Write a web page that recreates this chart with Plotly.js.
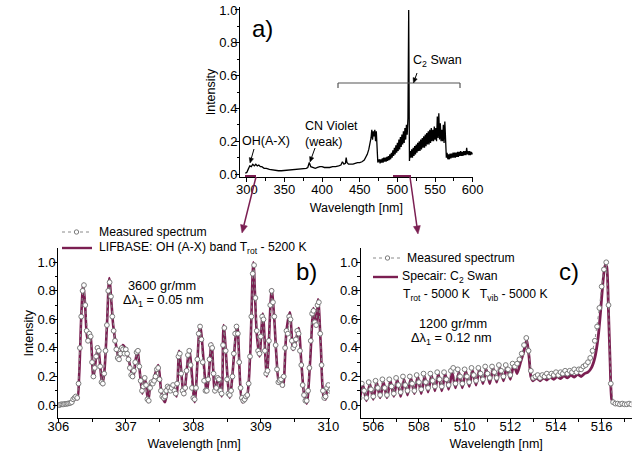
<!DOCTYPE html>
<html>
<head>
<meta charset="utf-8">
<script src="https://cdn.plot.ly/plotly-3.0.1.min.js"></script>
<style>html,body{margin:0;padding:0;background:#fff;}#chart{width:636px;height:461px;}</style>
</head>
<body>
<div id="chart"></div>
<script>
// ---------- Panel a: survey spectrum ----------
const aWl = [298,300,302,304,306,308,310,312,314,316,318,320,323,326,330,334,338,342,346,350,355,360,365,370,375,379,381,383,385,388,391,394,397,400,403,406,410,414,418,422,425,427,429,431,432,433,435,438,441,444,447,450,453,456,458,460,462,464,465,466,467,468,469,470,471,472,473,474,475,
476,477,478,479,480,481,482,483,484,485,486,487,488,489,490,491,492,493,494,495,496,497,498,499,500,501,502,503,504,505,506,507,508,509,510,511,512,513,514,515,516,517,518,519,520,521,522,523,524,525,526,527,528,529,530,531,532,533,534,535,536,537,538,539,540,541,542,543,544,545,546,547,548,549,550,551,552,553,554,555,556,557,558,559,560,561,562,563,564,565,566,567,568,569,570,571,572,573,574,575,576,577,578,579,580,581,582,583,584,585,586,587,588,589,590,591,592,593,594,595,596,597,598,599,600];
const aInt = [0.005,0.01,0.03,0.05,0.045,0.06,0.05,0.06,0.05,0.055,0.045,0.045,0.035,0.035,0.028,0.025,0.02,0.02,0.02,0.022,0.025,0.025,0.028,0.03,0.032,0.035,0.04,0.07,0.045,0.04,0.035,0.04,0.045,0.045,0.04,0.04,0.04,0.045,0.045,0.05,0.055,0.075,0.06,0.065,0.10,0.07,0.06,0.06,0.06,0.065,0.07,0.07,0.075,0.085,0.10,0.12,0.15,0.19,0.22,0.27,0.21,0.26,0.23,0.27,0.20,0.26,0.18,0.07,0.08,
0.09,0.065,0.09,0.07,0.095,0.07,0.10,0.075,0.10,0.075,
0.105,0.08,0.11,0.085,0.12,0.09,0.13,0.10,0.145,0.11,
0.16,0.12,0.175,0.13,0.19,0.14,0.21,0.15,0.225,0.165,
0.24,0.18,0.26,0.19,0.28,0.21,0.30,0.24,0.34,1.0,
0.08,0.14,0.10,0.15,0.10,0.16,0.11,0.17,0.12,0.18,
0.13,0.19,0.14,0.20,0.14,0.21,0.15,0.22,0.16,0.23,
0.16,0.24,0.17,0.25,0.18,0.26,0.18,0.27,0.19,0.28,
0.20,0.27,0.20,0.29,0.21,0.28,0.20,0.35,0.22,0.37,
0.21,0.31,0.20,0.27,0.20,0.30,0.19,0.32,0.15,0.10,
0.13,0.09,0.12,0.09,0.125,0.095,0.125,0.10,0.13,0.10,
0.13,0.10,0.13,0.105,0.135,0.105,0.135,0.11,0.14,0.11,
0.135,0.11,0.14,0.115,0.14,0.115,0.16,0.12,0.14,0.115,
0.14,0.115,0.135,0.12,0.13];

// ---------- Panel b: OH (A-X) ----------
const bModelWl = [306.00,306.10,306.18,306.22,306.25,306.28,306.31,306.34,306.37,306.40,306.43,306.47,306.49,306.52,306.56,306.59,306.62,306.65,306.68,306.72,306.755,306.79,306.815,306.865,306.90,306.955,307.00,307.05,307.11,307.14,307.175,307.21,307.245,307.28,307.30,307.33,307.37,307.41,307.48,307.53,307.58,307.63,307.67,307.70,307.75,307.79,307.86,307.94,308.02,308.10,308.20,308.27,308.32,308.37,308.42,308.45,308.54,308.65,308.73,308.79,308.84,308.89,308.94,308.98,309.03,309.09,309.16,309.20,309.23,309.27,309.30,309.33,309.38,309.43,309.48,309.52,309.56,309.60,309.64,309.68,309.73,309.78,309.82,309.85,309.89,309.93,309.96,309.99,310.03];
const bModelInt = [0.005,0.007,0.012,0.03,0.05,0.04,0.22,0.62,0.85,0.68,0.46,0.51,0.42,0.19,0.33,0.41,0.28,0.14,0.22,0.55,0.89,0.70,0.55,0.39,0.315,0.42,0.39,0.30,0.19,0.30,0.385,0.22,0.08,0.18,0.15,0.02,0.15,0.18,0.28,0.08,0.02,0.12,0.10,0.14,0.06,0.38,0.07,0.385,0.02,0.56,0.09,0.43,0.09,0.20,0.06,0.56,0.05,0.56,0.02,0.05,0.33,1.00,0.50,0.34,0.64,0.20,0.81,0.60,0.35,0.15,0.17,0.13,0.52,0.65,0.385,0.45,0.54,0.30,0.08,0.01,0.30,0.68,0.55,0.74,0.40,0.06,0.04,0.12,0.10];
const bMeasWl = [306.00,306.02,306.04,306.06,306.08,306.10,306.12,306.14,306.16,306.18,
306.20,306.22,306.24,306.26,306.28,306.30,306.32,306.34,306.36,306.38,
306.40,306.42,306.44,306.46,306.48,306.50,306.52,306.54,306.56,306.58,
306.60,306.62,306.64,306.66,306.68,306.70,306.72,306.74,306.76,306.78,
306.80,306.82,306.84,306.86,306.88,306.90,306.92,306.94,306.96,306.98,
307.00,307.02,307.04,307.06,307.08,307.10,307.12,307.14,307.16,307.18,
307.20,307.22,307.24,307.26,307.28,307.30,307.32,307.34,307.36,307.38,
307.40,307.42,307.44,307.46,307.48,307.50,307.52,307.54,307.56,307.58,
307.60,307.62,307.64,307.66,307.68,307.70,307.72,307.74,307.76,307.78,
307.80,307.82,307.84,307.86,307.88,307.90,307.92,307.94,307.96,307.98,
308.00,308.02,308.04,308.06,308.08,308.10,308.12,308.14,308.16,308.18,
308.20,308.22,308.24,308.26,308.28,308.30,308.32,308.34,308.36,308.38,
308.40,308.42,308.44,308.46,308.48,308.50,308.52,308.54,308.56,308.58,
308.60,308.62,308.64,308.66,308.68,308.70,308.72,308.74,308.76,308.78,
308.80,308.82,308.84,308.86,308.88,308.90,308.92,308.94,308.96,308.98,
309.00,309.02,309.04,309.06,309.08,309.10,309.12,309.14,309.16,309.18,
309.20,309.22,309.24,309.26,309.28,309.30,309.32,309.34,309.36,309.38,
309.40,309.42,309.44,309.46,309.48,309.50,309.52,309.54,309.56,309.58,
309.60,309.62,309.64,309.66,309.68,309.70,309.72,309.74,309.76,309.78,
309.80,309.82,309.84,309.86,309.88,309.90,309.92,309.94,309.96,309.98,
310.00,310.02,310.04];
const bMeasInt = [0.00,0.00,0.005,0.005,0.005,0.008,0.008,0.01,0.012,0.015,
0.02,0.04,0.05,0.06,0.05,0.15,0.40,0.62,0.80,0.84,
0.70,0.52,0.45,0.50,0.48,0.30,0.20,0.26,0.34,0.40,
0.38,0.27,0.16,0.15,0.22,0.38,0.56,0.80,0.86,0.76,
0.62,0.52,0.45,0.39,0.33,0.32,0.36,0.40,0.39,0.36,
0.39,0.36,0.32,0.26,0.21,0.20,0.24,0.30,0.37,0.38,
0.27,0.17,0.10,0.13,0.19,0.14,0.04,0.03,0.12,0.16,
0.15,0.17,0.20,0.25,0.26,0.18,0.10,0.06,0.05,0.06,
0.10,0.13,0.12,0.10,0.12,0.14,0.10,0.08,0.15,0.34,
0.36,0.22,0.10,0.08,0.12,0.24,0.35,0.38,0.28,0.12,
0.05,0.04,0.12,0.32,0.50,0.55,0.46,0.30,0.17,0.10,
0.10,0.18,0.32,0.42,0.40,0.22,0.10,0.12,0.19,0.18,
0.10,0.08,0.42,0.54,0.38,0.18,0.08,0.07,0.10,0.20,
0.36,0.50,0.55,0.50,0.30,0.12,0.05,0.03,0.04,0.06,
0.07,0.15,0.34,0.62,0.92,0.98,0.75,0.52,0.38,0.36,
0.48,0.62,0.60,0.38,0.22,0.24,0.45,0.70,0.80,0.72,
0.62,0.42,0.25,0.16,0.17,0.18,0.14,0.20,0.40,0.52,
0.50,0.62,0.60,0.45,0.40,0.42,0.46,0.52,0.50,0.38,
0.28,0.14,0.07,0.03,0.03,0.10,0.26,0.45,0.64,0.66,
0.58,0.56,0.70,0.72,0.50,0.28,0.10,0.05,0.06,0.12,
0.14,0.10,0.11];

// ---------- Panel c: C2 Swan ----------
const cModelWl = [505.40,505.55,505.70,505.85,506.00,506.15,506.30,506.45,506.60,506.75,506.90,507.05,507.20,507.35,507.50,507.65,507.80,507.95,508.10,508.25,508.40,508.55,508.70,508.85,509.00,509.15,509.30,509.45,509.60,509.75,509.90,510.05,510.20,510.35,510.50,510.65,510.80,510.95,511.10,511.25,511.40,511.55,511.70,511.85,512.00,512.15,512.30,512.45,512.60,512.72,512.82,512.90,513.00,513.15,513.30,513.45,513.60,513.75,513.90,514.05,514.20,514.35,514.50,514.65,514.80,514.95,515.10,515.25,515.40,515.55,515.70,515.85,515.95,516.05,516.15,516.22,516.30,516.37,516.44,516.55,516.80,517.00,517.30];
const cModelInt = [0.04,0.14,0.03,0.15,0.04,0.16,0.05,0.16,0.05,0.17,0.06,0.18,0.06,0.18,0.07,0.19,0.08,0.20,0.08,0.20,0.09,0.21,0.10,0.22,0.10,0.22,0.11,0.23,0.12,0.23,0.12,0.24,0.13,0.24,0.14,0.25,0.15,0.25,0.15,0.26,0.16,0.26,0.17,0.27,0.18,0.28,0.22,0.30,0.38,0.46,0.34,0.20,0.17,0.19,0.17,0.19,0.175,0.195,0.18,0.20,0.185,0.205,0.19,0.21,0.195,0.215,0.20,0.22,0.23,0.26,0.33,0.48,0.65,0.85,0.98,0.97,0.65,0.30,0.04,0.01,0.005,0.005,0.005];
const cMeasWl = [505.4,505.5,505.6,505.7,505.8,505.9,506.0,506.1,506.2,506.3,
506.4,506.5,506.6,506.7,506.8,506.9,507.0,507.1,507.2,507.3,
507.4,507.5,507.6,507.7,507.8,507.9,508.0,508.1,508.2,508.3,
508.4,508.5,508.6,508.7,508.8,508.9,509.0,509.1,509.2,509.3,
509.4,509.5,509.6,509.7,509.8,509.9,510.0,510.1,510.2,510.3,
510.4,510.5,510.6,510.7,510.8,510.9,511.0,511.1,511.2,511.3,
511.4,511.5,511.6,511.7,511.8,511.9,512.0,512.1,512.2,512.3,
512.4,512.5,512.6,512.7,512.8,512.9,513.0,513.1,513.2,513.3,
513.4,513.5,513.6,513.7,513.8,513.9,514.0,514.1,514.2,514.3,
514.4,514.5,514.6,514.7,514.8,514.9,515.0,515.1,515.2,515.3,
515.4,515.5,515.6,515.7,515.8,515.9,516.0,516.1,516.2,516.3,
516.4,516.5,516.6,516.7,516.8,516.9,517.0,517.1,517.2,517.3];
const cMeasInt = [0.05,0.15,0.10,0.05,0.16,0.11,0.06,0.17,0.12,0.07,
0.18,0.12,0.07,0.18,0.13,0.08,0.19,0.14,0.09,0.20,
0.14,0.10,0.20,0.15,0.10,0.21,0.16,0.11,0.22,0.16,
0.12,0.22,0.17,0.13,0.23,0.18,0.13,0.23,0.18,0.14,
0.24,0.26,0.15,0.25,0.20,0.15,0.25,0.20,0.16,0.26,
0.21,0.17,0.26,0.22,0.18,0.27,0.22,0.19,0.27,0.23,
0.19,0.28,0.24,0.20,0.28,0.25,0.21,0.29,0.27,0.29,
0.32,0.36,0.42,0.47,0.38,0.24,0.19,0.20,0.21,0.19,
0.21,0.20,0.22,0.20,0.22,0.21,0.23,0.21,0.23,0.22,
0.24,0.22,0.24,0.23,0.25,0.23,0.25,0.25,0.27,0.28,
0.30,0.33,0.38,0.45,0.55,0.68,0.83,0.95,1.00,0.70,
0.15,0.02,0.01,0.01,0.005,0.01,0.005,0.005,0.01,0.005];

// ---------- styling helpers ----------
const W = 636, H = 461;
const X = p => p / W;
const Y = p => 1 - p / H;
const PURPLE = '#7b1f52';
const FONT = 'Liberation Sans, Arial, sans-serif';
const measStyle = {
  mode: 'lines+markers',
  line: {color: '#8a8a8a', width: 1, dash: 'dot'},
  marker: {symbol: 'circle', size: 4.8, color: '#ffffff', line: {color: '#7a7a7a', width: 1}},
  showlegend: false, hoverinfo: 'skip'
};

const traces = [
  {x: aWl, y: aInt, xaxis: 'x', yaxis: 'y', mode: 'lines', line: {color: '#000', width: 1.3}, showlegend: false},
  {x: bModelWl, y: bModelInt, xaxis: 'x2', yaxis: 'y2', mode: 'lines', line: {color: PURPLE, width: 2.6, shape: 'spline', smoothing: 0.8}, showlegend: false},
  Object.assign({x: bMeasWl, y: bMeasInt, xaxis: 'x2', yaxis: 'y2'}, measStyle),
  {x: cModelWl, y: cModelInt, xaxis: 'x3', yaxis: 'y3', mode: 'lines', line: {color: PURPLE, width: 2.8, shape: 'spline', smoothing: 0.5}, showlegend: false},
  Object.assign({x: cMeasWl, y: cMeasInt, xaxis: 'x3', yaxis: 'y3'}, measStyle)
];

const minorTicks = d => ({dtick: d, ticklen: 2.5, tickcolor: '#000', ticks: 'outside'});
function axisBase(extra) {
  return Object.assign({
    showline: true, linecolor: '#000', linewidth: 1,
    ticks: 'outside', ticklen: 4, tickwidth: 1, tickcolor: '#000',
    showgrid: false, zeroline: false, fixedrange: true,
    tickfont: {family: FONT, size: 13, color: '#000'}
  }, extra);
}
const titleFont = {family: FONT, size: 12.5, color: '#000'};

const layout = {
  width: W, height: H,
  margin: {l: 0, r: 0, t: 0, b: 0},
  paper_bgcolor: '#fff', plot_bgcolor: '#fff',
  font: {family: FONT, size: 13, color: '#000'},
  showlegend: false,
  xaxis: axisBase({domain: [X(240), X(472.7)], anchor: 'y', range: [291, 600], tick0: 300, dtick: 50,
    ticklabelstandoff: -4, minor: minorTicks(25),
    title: {text: 'Wavelength [nm]', font: titleFont, standoff: 7}}),
  yaxis: axisBase({domain: [Y(177), Y(7)], anchor: 'x', range: [-0.018, 1.018], tick0: 0, dtick: 0.2, tickformat: '.1f',
    ticklabelstandoff: -5, minor: minorTicks(0.1),
    title: {text: 'Intensity', font: titleFont, standoff: 0}}),
  xaxis2: axisBase({domain: [X(58.3), X(330)], anchor: 'y2', range: [306, 310.025], tick0: 306, dtick: 1,
    ticklabelstandoff: -8, minor: minorTicks(0.5),
    title: {text: 'Wavelength [nm]', font: titleFont, standoff: 6}}),
  yaxis2: axisBase({domain: [Y(418.3), Y(248.3)], anchor: 'x2', range: [-0.093, 1.098], tick0: 0, dtick: 0.2, tickformat: '.1f',
    ticklabelstandoff: -5, minor: minorTicks(0.1),
    title: {text: 'Intensity', font: titleFont, standoff: 1}}),
  xaxis3: axisBase({domain: [X(360.7), X(631.7)], anchor: 'y3', range: [505.45, 517.315], tick0: 506, dtick: 2,
    ticklabelstandoff: -8, minor: minorTicks(1),
    title: {text: 'Wavelength [nm]', font: titleFont, standoff: 6}}),
  yaxis3: axisBase({domain: [Y(418.3), Y(248.3)], anchor: 'x3', range: [-0.093, 1.098], tick0: 0, dtick: 0.2, tickformat: '.1f',
    ticklabelstandoff: -5, minor: minorTicks(0.1)}),
  shapes: [],
  annotations: []
};

function txt(t, x, y, size, opts) {
  layout.annotations.push(Object.assign({
    text: t, x: X(x), y: Y(y), xref: 'paper', yref: 'paper',
    xanchor: 'center', yanchor: 'middle', showarrow: false,
    font: {family: FONT, size: size || 12.5, color: '#000'}
  }, opts || {}));
}
function seg(x0, y0, x1, y1, color, width, dash) {
  layout.shapes.push({type: 'line', xref: 'paper', yref: 'paper',
    x0: X(x0), y0: Y(y0), x1: X(x1), y1: Y(y1),
    line: {color: color, width: width, dash: dash || 'solid'}});
}
// arrow drawn as a line plus a filled triangular head (pixel geometry -> paper)
function arrow(fromX, fromY, tipX, tipY, color, width, headLen, headHalf) {
  const dx = tipX - fromX, dy = tipY - fromY, L = Math.hypot(dx, dy);
  const ux = dx / L, uy = dy / L;
  const bx = tipX - ux * headLen, by = tipY - uy * headLen;
  seg(fromX, fromY, bx, by, color, width);
  const p1x = bx - uy * headHalf, p1y = by + ux * headHalf;
  const p2x = bx + uy * headHalf, p2y = by - ux * headHalf;
  layout.shapes.push({type: 'path', xref: 'paper', yref: 'paper',
    path: `M ${X(tipX)} ${Y(tipY)} L ${X(p1x)} ${Y(p1y)} L ${X(p2x)} ${Y(p2y)} Z`,
    fillcolor: color, line: {color: color, width: 0.5}});
}
function dot(cx, cy, r) {
  layout.shapes.push({type: 'circle', xref: 'paper', yref: 'paper',
    x0: X(cx - r), x1: X(cx + r), y0: Y(cy + r), y1: Y(cy - r),
    fillcolor: '#fff', line: {color: '#7a7a7a', width: 1}});
}

// Panel a annotations
txt('a)', 262, 28, 24);
txt('C<sub>2</sub> Swan', 437, 61, 12.5);
seg(338, 83, 460, 83, '#555', 1.2);
seg(338, 83, 338, 88, '#555', 1.2);
seg(460, 83, 460, 88, '#555', 1.2);
arrow(417, 73, 413.5, 83, '#000', 1, 5, 2.2);
txt('OH(A-X)', 266, 141, 12.5);
arrow(254, 149, 250, 163, '#000', 1, 5, 2.2);
txt('CN Violet<br>(weak)', 303, 134, 12.5, {xanchor: 'left', align: 'left'});
arrow(315, 148, 310, 162, '#000', 1, 5, 2.2);

// zoom brackets and arrows
seg(245, 176, 256, 176, PURPLE, 2);
seg(393, 176, 411, 176, PURPLE, 2);
arrow(256, 177, 242, 233, PURPLE, 1.5, 8, 3.5);
arrow(410, 177, 418, 234, PURPLE, 1.5, 8, 3.5);

// Panel b annotations + legend
txt('b)', 306, 271, 24);
txt('3600 gr/mm', 162, 285, 12.8);
txt('\u0394\u03bb<sub>1</sub> = 0.05 nm', 163, 300, 12.8);
seg(62, 232, 91, 232, '#8a8a8a', 1, 'dot');
dot(76.5, 232, 2.2);
txt('Measured spectrum', 97, 232, 12.2, {xanchor: 'left'});
seg(62, 248, 92, 248, PURPLE, 2.4);
txt('LIFBASE: OH (A-X) band T<sub>rot</sub> - 5200 K', 97, 248, 12.2, {xanchor: 'left'});

// Panel c annotations + legend
txt('c)', 569, 271, 24);
seg(373, 258, 402, 258, '#8a8a8a', 1, 'dot');
dot(387.5, 258, 2.2);
txt('Measured spectrum', 405, 258, 12.2, {xanchor: 'left'});
seg(373, 277, 398, 277, PURPLE, 2.4);
txt('Specair: C<sub>2</sub> Swan', 400, 277, 12.2, {xanchor: 'left'});
txt('T<sub>rot</sub> - 5000 K   T<sub>vib</sub> - 5000 K', 401, 295, 12.2, {xanchor: 'left'});
txt('1200 gr/mm', 453, 323, 12.8);
txt('\u0394\u03bb<sub>1</sub> = 0.12 nm', 452, 338, 12.8);

Plotly.newPlot('chart', traces, layout, {staticPlot: true, displayModeBar: false});
</script>
</body>
</html>
